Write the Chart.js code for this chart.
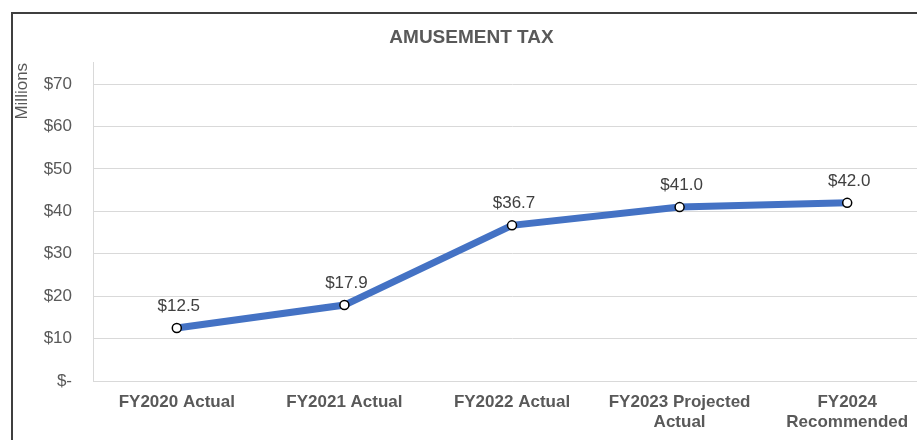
<!DOCTYPE html>
<html>
<head>
<meta charset="utf-8">
<script src="https://cdn.jsdelivr.net/npm/chart.js@4.4.0/dist/chart.umd.min.js"></script>
<style>
  html, body { margin: 0; padding: 0; background: #fff; overflow: hidden; width: 917px; height: 440px; }
  #frame { position: absolute; left: 11px; top: 12px; width: 960px; height: 500px; border: 2px solid #3f3f3f; background: #fff; }
  #wrap { position: absolute; left: 0; top: 0; width: 960px; height: 480px; }
</style>
</head>
<body>
<div id="frame"></div>
<div id="wrap"><canvas id="chart" width="960" height="480"></canvas></div>
<script>
const categories = [
  'FY2020 Actual',
  'FY2021 Actual',
  'FY2022 Actual',
  ['FY2023 Projected', 'Actual'],
  ['FY2024', 'Recommended'],
]
const taxValues = [12.5, 17.9, 36.7, 41.0, 42.0]
const yTicks = [0, 10, 20, 30, 40, 50, 60, 70]

const textColor = '#595959'
const gridColor = '#d9d9d9'
const fontFamily = "'Liberation Sans', Arial, sans-serif"

// value labels above each point
const valueLabels = {
  id: 'valueLabels',
  afterDatasetsDraw(chart) {
    const ctx = chart.ctx
    const meta = chart.getDatasetMeta(0)
    ctx.save()
    ctx.font = '17px ' + fontFamily
    ctx.fillStyle = '#404040'
    ctx.textAlign = 'center'
    ctx.textBaseline = 'middle'
    meta.data.forEach((pt, i) => {
      ctx.fillText('$' + taxValues[i].toFixed(1), pt.x + 2, pt.y - 22)
    })
    ctx.restore()
  },
}

const config = {
  type: 'line',
  data: {
    labels: categories,
    datasets: [{
      label: 'Amusement Tax',
      data: taxValues,
      borderColor: '#4472C4',
      backgroundColor: '#4472C4',
      borderWidth: 7,
      tension: 0,
      pointRadius: 4.5,
      pointBorderWidth: 1.5,
      pointBorderColor: '#000000',
      pointBackgroundColor: '#ffffff',
    }],
  },
  options: {
    responsive: false,
    animation: false,
    layout: { padding: { left: 12, right: 29, top: 0, bottom: 0 } },
    scales: {
      x: {
        offset: true,
        grid: { display: false, drawTicks: false },
        border: { display: true, color: gridColor, width: 1 },
        ticks: {
          color: textColor,
          padding: 11,
          maxRotation: 0,
          autoSkip: false,
          font: { family: fontFamily, size: 17, weight: 'bold', lineHeight: 1.2 },
        },
        afterFit: (scale) => { scale.height = 99 },
      },
      y: {
        min: 0,
        max: 75,
        afterBuildTicks: (scale) => {
          scale.ticks = yTicks.map((v) => ({ value: v }))
        },
        grid: { color: gridColor, lineWidth: 1, drawTicks: false },
        border: { display: true, color: gridColor, width: 1 },
        ticks: {
          color: textColor,
          padding: 21,
          font: { family: fontFamily, size: 17 },
          callback: (v) => (v === 0 ? '$-' : '$' + v),
        },
        title: {
          display: true,
          text: 'Millions',
          align: 'end',
          color: textColor,
          padding: 0,
          font: { family: fontFamily, size: 17, lineHeight: 1.2 },
        },
        afterFit: (scale) => { scale.width = 81 },
      },
    },
    plugins: {
      legend: { display: false },
      tooltip: { enabled: false },
      title: {
        display: true,
        text: 'AMUSEMENT TAX',
        color: textColor,
        padding: { top: 27, bottom: 15 },
        font: { family: fontFamily, size: 19, weight: 'bold', lineHeight: 1.1 },
      },
    },
  },
  plugins: [valueLabels],
}

new Chart(document.getElementById('chart').getContext('2d'), config)
</script>
</body>
</html>
